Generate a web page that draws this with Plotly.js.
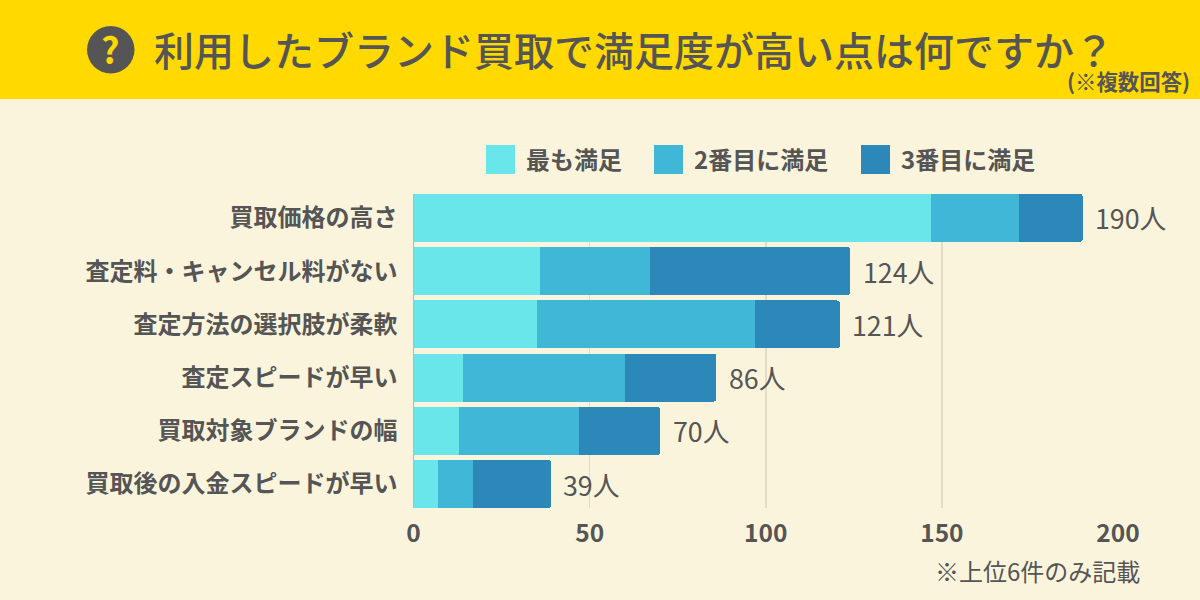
<!DOCTYPE html>
<html>
<head>
<meta charset="utf-8">
<script src="https://cdn.plot.ly/plotly-3.0.1.min.js"></script>
<style>html,body{margin:0;padding:0;background:#FBF4DC}#chart{width:1200px;height:600px}</style>
</head>
<body>
<div id="chart"></div>
<script>
var categories = ["買取価格の高さ","査定料・キャンセル料がない","査定方法の選択肢が柔軟","査定スピードが早い","買取対象ブランドの幅","買取後の入金スピードが早い"];
var seriesNames = ["最も満足","2番目に満足","3番目に満足"];
var first = [147,36,35,14,13,7];
var second = [25,31,62,46,34,10];
var third = [18,57,24,26,23,22];
var colors = ["#69E6EA","#41B7D7","#2C88B8"];
var titleText = "利用したブランド買取で満足度が高い点は何ですか？";
var subText = "(※複数回答)";
var noteText = "※上位6件のみ記載";
var tickVals = [0,50,100,150,200];

var FONT = '"Noto Sans CJK JP","Noto Sans",sans-serif';
var INK = "#555555";
function px(x){return x/1200;}
function py(y){return 1-y/600;}

var data = [first,second,third].map(function(vals,i){
  return {type:"bar",orientation:"h",name:seriesNames[i],y:categories,x:vals,
    marker:{color:colors[i],line:{width:0}},hoverinfo:"skip"};
});

var shapes = [
  {type:"rect",xref:"paper",yref:"paper",x0:0,x1:1,y0:py(99),y1:1,fillcolor:"#FFD900",line:{width:0},layer:"below"},
  {type:"circle",xref:"paper",yref:"paper",x0:px(87),x1:px(134.5),y0:py(73.5),y1:py(26),fillcolor:INK,line:{width:0}}
];
var annotations = [
  {text:"?",x:px(110.5),y:py(48.5),font:{family:FONT,size:36,color:"#FFD900",weight:700},xanchor:"center",yanchor:"middle"},
  {text:titleText,x:px(154),y:py(49),font:{family:FONT,size:40,color:INK,weight:500},xanchor:"left",yanchor:"middle"},
  {text:subText,x:px(1190),y:py(80.5),font:{family:FONT,size:21.4,color:INK,weight:700},xanchor:"right",yanchor:"middle"},
  {text:noteText,x:px(1140),y:py(570.5),font:{family:FONT,size:24,color:INK},xanchor:"right",yanchor:"middle"}
];
var legendX = [486,654,861];
seriesNames.forEach(function(n,i){
  shapes.push({type:"rect",xref:"paper",yref:"paper",x0:px(legendX[i]),x1:px(legendX[i]+29),y0:py(174),y1:py(145),fillcolor:colors[i],line:{width:0}});
  annotations.push({text:n,x:px(legendX[i]+40),y:py(158.5),font:{family:FONT,size:24,color:INK,weight:700},xanchor:"left",yanchor:"middle"});
});
categories.forEach(function(c,i){
  var total = first[i]+second[i]+third[i];
  annotations.push({text:total+"人",xref:"x",yref:"y",x:total,y:c,xshift:12.5,yshift:0,xanchor:"left",yanchor:"middle",showarrow:false,
    font:{family:FONT,size:26.8,color:INK}});
});
annotations.forEach(function(a){
  a.showarrow=false;
  if(!a.xref){a.xref="paper";a.yref="paper";}
  a.xanchor=a.xanchor||"center";a.borderpad=0;a.borderwidth=0;
});

var layout = {
  width:1200,height:600,
  margin:{l:0,r:0,t:0,b:0,pad:0},
  paper_bgcolor:"#FBF4DC",plot_bgcolor:"rgba(0,0,0,0)",
  barmode:"stack",bargap:0.1,barcornerradius:3,showlegend:false,
  font:{family:FONT,color:INK},
  xaxis:{domain:[px(413.5),px(1118)],range:[0,200],tickvals:tickVals,ticktext:tickVals.map(String),
    showgrid:true,gridcolor:"#E2DCC6",gridwidth:1.5,zeroline:true,zerolinecolor:"#BDB9A8",zerolinewidth:1.5,
    showline:false,ticks:"",ticklabelstandoff:8,tickfont:{family:FONT,size:24.5,color:INK,weight:700},fixedrange:true},
  yaxis:{domain:[py(508),py(194)],range:[5.45,-0.45],type:"category",categoryorder:"array",categoryarray:categories,
    showgrid:false,zeroline:false,showline:false,ticks:"",ticklabelstandoff:15,tickfont:{family:FONT,size:24,color:INK,weight:700},fixedrange:true},
  shapes:shapes,annotations:annotations
};
Plotly.newPlot("chart",data,layout,{displayModeBar:false,staticPlot:true});
</script>
</body>
</html>
